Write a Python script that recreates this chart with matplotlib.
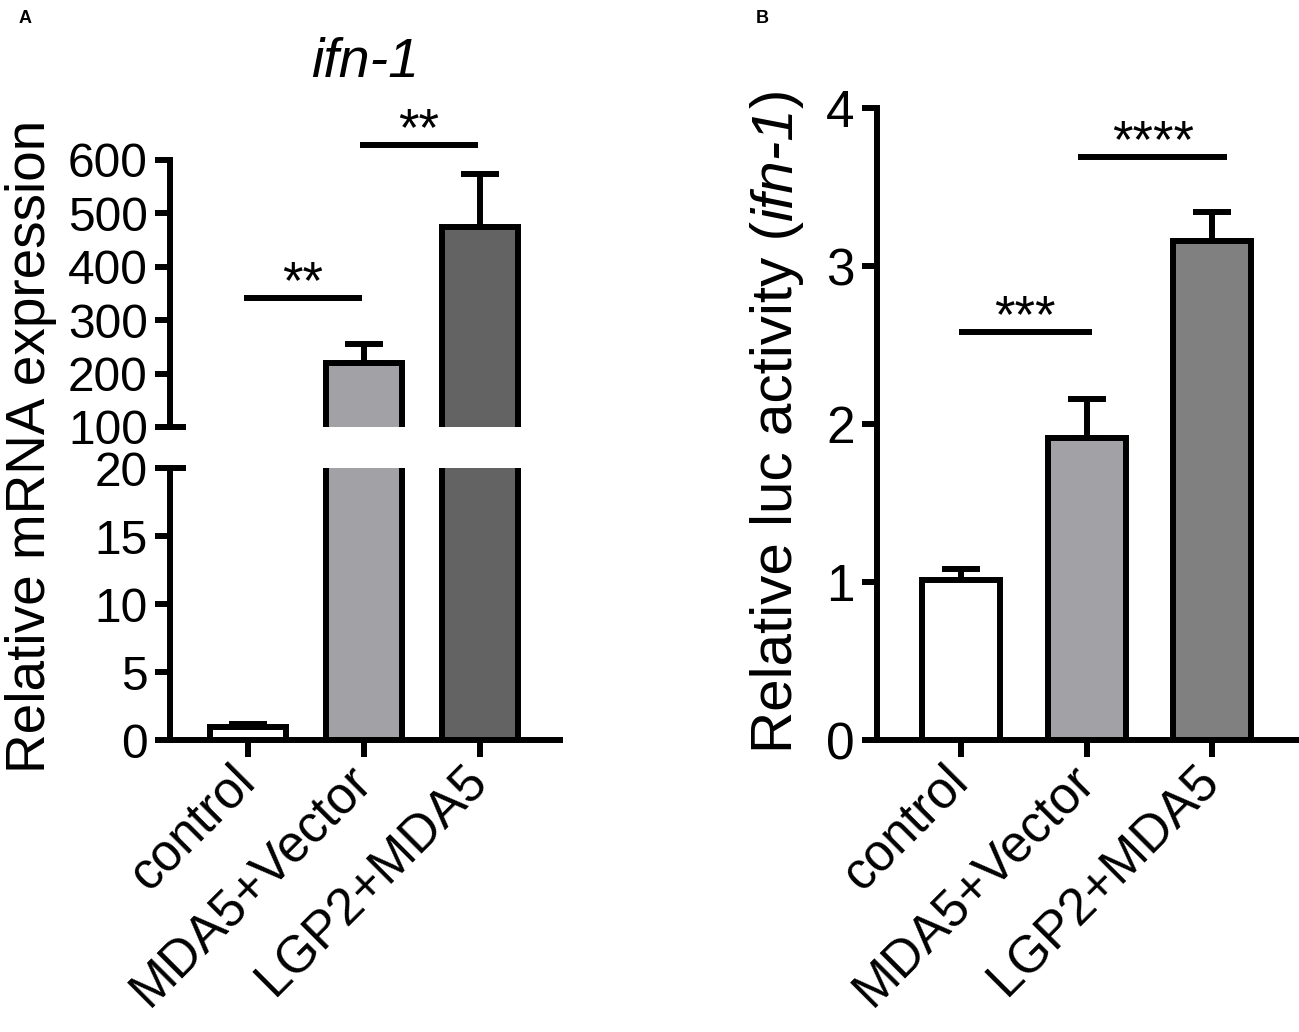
import matplotlib
matplotlib.use("Agg")
import matplotlib.pyplot as plt

plt.rcParams["font.family"] = ["Liberation Sans", "DejaVu Sans"]

groups = ["control", "MDA5+Vector", "LGP2+MDA5"]

# panel A: ifn-1 mRNA
mrna_mean = [0.95, 220, 474]
mrna_err = [0.2, 35, 100]
mrna_colors = ["#ffffff", "#a2a1a6", "#636363"]

# panel B: luciferase
luc_mean = [1.01, 1.91, 3.16]
luc_err = [0.07, 0.25, 0.18]
luc_colors = ["#ffffff", "#a2a1a6", "#808080"]

# significance brackets: (x start, x end, height, label)
sig_a = [(-0.03, 0.98, 342, "**"), (0.97, 1.98, 628, "**")]
sig_b = [(-0.02, 1.04, 2.585, "***"), (0.93, 2.12, 3.69, "****")]

LW = 4.3

fig = plt.figure(figsize=(12.99, 10.32), dpi=100)

ax_lo = fig.add_axes([0.1309, 0.2829, 0.3002, 0.2636])
ax_hi = fig.add_axes([0.1309, 0.5863, 0.3002, 0.2587])
ax_b = fig.add_axes([0.6751, 0.2829, 0.3249, 0.6124])

x = list(range(len(groups)))


def style(ax, fs):
    for s in ["top", "right"]:
        ax.spines[s].set_visible(False)
    for s in ["left", "bottom"]:
        ax.spines[s].set_linewidth(LW)
    ax.tick_params(axis="y", length=11, width=LW, labelsize=fs, pad=5)
    ax.tick_params(axis="x", length=12, width=LW, labelsize=37, pad=12)
    ax.set_xlim(-0.67, 2.69)


def draw_bars(ax, means, errs, colors, width):
    ax.bar(x, means, width=width, color=colors, edgecolor="black",
           linewidth=LW, zorder=2)
    ax.errorbar(x, means, yerr=[[0] * len(errs), errs], fmt="none",
                ecolor="black", elinewidth=LW, capsize=14, capthick=LW,
                zorder=1)


def draw_sig(ax, sigs):
    for a, b, h, lab in sigs:
        ax.plot([a, b], [h, h], color="black", lw=LW, clip_on=False,
                solid_capstyle="butt")
        ax.text((a + b) / 2, h, lab, ha="center", va="baseline",
                fontsize=38, clip_on=False)


# panel A, broken axis
for ax in (ax_lo, ax_hi):
    style(ax, 34.5)
    draw_bars(ax, mrna_mean, mrna_err, mrna_colors, 0.655)

ax_lo.set_ylim(0, 20)
ax_lo.set_yticks([0, 5, 10, 15, 20])
ax_lo.set_xticks(x)
ax_lo.set_xticklabels(groups, rotation=45, ha="right",
                      rotation_mode="anchor", va="center")

ax_hi.set_ylim(100, 600)
ax_hi.set_yticks([100, 200, 300, 400, 500, 600])
ax_hi.spines["bottom"].set_visible(False)
ax_hi.tick_params(axis="x", bottom=False, labelbottom=False)

# break marks
for ax, yy in ((ax_hi, 0), (ax_lo, 1)):
    ax.plot([-0.036, 0.04], [yy, yy], transform=ax.transAxes, color="black",
            lw=LW, clip_on=False, solid_capstyle="butt")

draw_sig(ax_hi, sig_a)
ax_hi.set_title("ifn-1", fontsize=40, fontstyle="italic", pad=60)
fig.text(0.024, 0.567, "Relative mRNA expression", rotation=90,
         ha="center", va="center", fontsize=39.5)

# panel B
style(ax_b, 37)
draw_bars(ax_b, luc_mean, luc_err, luc_colors, 0.62)
ax_b.set_ylim(0, 4)
ax_b.set_yticks([0, 1, 2, 3, 4])
ax_b.set_xticks(x)
ax_b.set_xticklabels(groups, rotation=45, ha="right",
                     rotation_mode="anchor", va="center")
draw_sig(ax_b, sig_b)

# y label with italic gene name, built piece by piece
renderer = fig.canvas.get_renderer()
ypos = 0.270
for part, fstyle in [("Relative luc activity (", "normal"),
                     ("ifn-1", "italic"), (")", "normal")]:
    t = fig.text(0.6097, ypos, part, rotation=90, rotation_mode="anchor",
                 ha="left", va="baseline", fontsize=42, fontstyle=fstyle)
    bb = t.get_window_extent(renderer)
    ypos += bb.height / fig.bbox.height

fig.text(0.014, 0.982, "A", fontsize=13, fontweight="bold", ha="left",
         va="center")
fig.text(0.582, 0.982, "B", fontsize=13, fontweight="bold", ha="left",
         va="center")

fig.savefig("out.png", dpi=100)
